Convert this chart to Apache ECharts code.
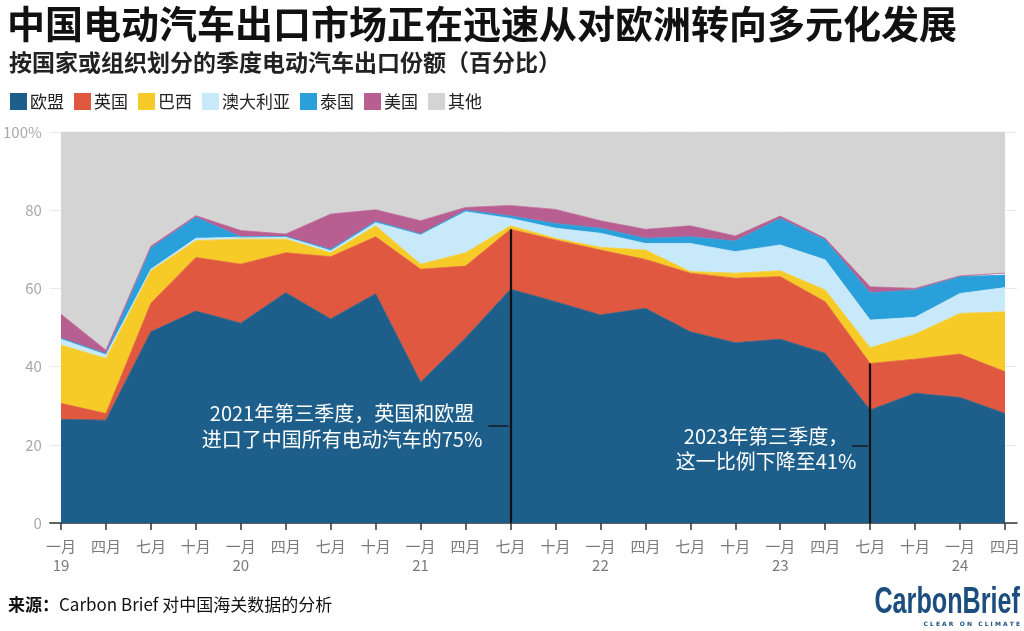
<!DOCTYPE html>
<html>
<head>
<meta charset="utf-8">
<script src="https://cdn.jsdelivr.net/npm/echarts@6/dist/echarts.min.js"></script>
<style>
    html, body { margin: 0; padding: 0; background: #fff; }
    #main { width: 1024px; height: 631px; }
</style>
</head>
<body>
<div id="main"></div>
<script>
// quarters Q1 2019 .. Q2 2024
const months = ['一月', '四月', '七月', '十月', '一月', '四月', '七月', '十月', '一月', '四月', '七月',
    '十月', '一月', '四月', '七月', '十月', '一月', '四月', '七月', '十月', '一月', '四月'];
const years = ['19', '', '', '', '20', '', '', '', '21', '', '', '', '22', '', '', '', '23', '', '', '', '24', ''];

const names = ['欧盟', '英国', '巴西', '澳大利亚', '泰国', '美国', '其他'];
const colors = ['#1d5f8a', '#e05840', '#f7cb27', '#c8e9fa', '#2aa0db', '#b95e91', '#d4d4d4'];

const eu = [26.5, 26.3, 48.9, 54.2, 51.1, 58.9, 52.2, 58.6, 36.0, 47.3, 59.8, 56.6, 53.2, 54.9, 48.9, 46.1, 47.0, 43.4, 28.9, 33.2, 32.1, 28.0];
const uk = [4.1, 1.7, 7.3, 13.7, 15.1, 10.2, 15.9, 14.6, 28.9, 18.4, 15.3, 15.8, 16.6, 12.5, 15.0, 16.5, 16.0, 13.2, 11.9, 8.7, 11.1, 10.7];
const brazil = [14.9, 14.1, 8.3, 4.3, 6.4, 3.5, 1.0, 2.8, 1.3, 3.4, 0.9, 0.4, 0.7, 2.4, 0.4, 1.3, 1.5, 3.0, 4.0, 6.4, 10.4, 15.3];
const australia = [1.5, 0.9, 0.4, 0.6, 0.5, 0.6, 0.5, 0.8, 7.5, 10.5, 1.9, 2.6, 3.6, 1.7, 7.2, 5.5, 6.6, 7.7, 7.1, 4.3, 5.1, 6.2];
const thailand = [0.3, 0.3, 5.4, 5.4, 0.1, 0.1, 0.4, 0.4, 0.2, 0.4, 0.6, 1.2, 1.3, 1.3, 1.7, 2.7, 6.8, 5.1, 7.0, 7.0, 4.3, 3.2];
const usa = [6.1, 0.9, 0.5, 0.4, 1.6, 0.6, 9.0, 2.9, 3.4, 0.7, 2.7, 3.6, 1.9, 2.3, 2.8, 1.3, 0.6, 0.4, 1.5, 0.4, 0.2, 0.5];
const other = [46.6, 55.8, 29.2, 21.4, 25.2, 26.1, 21.0, 19.9, 22.7, 19.3, 18.8, 19.8, 22.7, 24.9, 24.0, 26.6, 21.5, 27.2, 39.6, 40.0, 36.8, 36.1];

const yTicks = [0, 20, 40, 60, 80, 100];

// annotation lines: quarter index, top of line, height of the small pointer
const note1 = { idx: 10, top: 75.1, tickY: 24.8, tickLen: 20 };
const note2 = { idx: 18, top: 40.8, tickY: 19.7, tickLen: 16 };

const font = 'Noto Sans CJK SC';

var myChart = echarts.init(document.getElementById('main'));

var allData = [eu, uk, brazil, australia, thailand, usa, other];
var series = [];
for (var i = 0; i < names.length; i++) {
    series.push({
        name: names[i],
        type: 'line',
        stack: 'total',
        xAxisIndex: 1,
        yAxisIndex: 1,
        data: allData[i],
        symbol: 'none',
        silent: true,
        itemStyle: { color: colors[i] },
        lineStyle: { width: 0.8, color: colors[i] },
        areaStyle: { color: colors[i], opacity: 1 }
    });
}

series[0].markLine = {
    silent: true,
    symbol: 'none',
    z: 10,
    label: { show: false },
    lineStyle: { color: '#111', width: 2.2, type: 'solid' },
    data: [
        [{ coord: [note1.idx, note1.top] }, { coord: [note1.idx, 0] }],
        [{ coord: [note2.idx, note2.top] }, { coord: [note2.idx, 0] }]
    ]
};

var option = {
    animation: false,
    title: [
        {
            text: '中国电动汽车出口市场正在迅速从对欧洲转向多元化发展',
            left: 2, top: 0,
            textStyle: { fontFamily: font, fontSize: 38, fontWeight: 'bold', color: '#111' }
        },
        {
            text: '按国家或组织划分的季度电动汽车出口份额（百分比）',
            left: 4, top: 46,
            textStyle: { fontFamily: font, fontSize: 23, fontWeight: 'bold', color: '#222' }
        }
    ],
    legend: {
        data: names,
        left: 5, top: 88,
        icon: 'rect',
        itemWidth: 17, itemHeight: 17,
        itemGap: 10,
        selectedMode: false,
        textStyle: { fontFamily: font, fontSize: 17, color: '#222', padding: [0, 0, 0, -2] }
    },
    grid: [
        { left: 48, right: 7, top: 132, bottom: 108 },
        { left: 61, right: 19, top: 132, bottom: 108 }
    ],
    xAxis: [
        {
            gridIndex: 0, type: 'value', min: 0, max: 1,
            axisLine: { show: true, onZero: false, lineStyle: { color: '#333', width: 1.5 } },
            axisTick: { show: false }, axisLabel: { show: false }, splitLine: { show: false }
        },
        {
            gridIndex: 1, type: 'category', boundaryGap: false,
            data: months,
            axisLine: { show: false },
            axisTick: { show: true, length: 7, inside: false, lineStyle: { color: '#333', width: 1.5 } },
            axisLabel: {
                interval: 0, margin: 14,
                fontFamily: font, fontSize: 15, color: '#7a7a7a', lineHeight: 19,
                formatter: function (v, idx) {
                    return years[idx] ? v + '\n' + years[idx] : v;
                }
            },
            splitLine: { show: false }
        }
    ],
    yAxis: [
        {
            gridIndex: 0, type: 'value', min: 0, max: 100, interval: 20,
            axisLine: { show: false }, axisTick: { show: false },
            axisLabel: {
                margin: 8, fontFamily: font, fontSize: 15, color: '#a8a8a8',
                formatter: function (v) { return v === yTicks[yTicks.length - 1] ? v + '%' : v; }
            },
            splitLine: { lineStyle: { color: '#e8e8e8', width: 1 } }
        },
        { gridIndex: 1, type: 'value', min: 0, max: 100, show: false }
    ],
    graphic: [
        {
            type: 'text', z: 10,
            x: 342, y: 426,
            style: {
                text: '2021年第三季度，英国和欧盟\n进口了中国所有电动汽车的75%',
                fontFamily: font, fontSize: 20, fill: '#fff', lineHeight: 26,
                align: 'center', verticalAlign: 'middle'
            }
        },
        {
            type: 'text', z: 10,
            x: 766, y: 449,
            style: {
                text: '2023年第三季度，\n这一比例下降至41%',
                fontFamily: font, fontSize: 20, fill: '#fff', lineHeight: 25,
                align: 'center', verticalAlign: 'middle'
            }
        },
        {
            type: 'text', x: 8, y: 605,
            style: {
                text: '{b|来源：}{r|Carbon Brief 对中国海关数据的分析}',
                verticalAlign: 'middle',
                rich: {
                    b: { fontFamily: font, fontSize: 17, fontWeight: 'bold', fill: '#111' },
                    r: { fontFamily: font, fontSize: 17, fill: '#111' }
                }
            }
        },
        {
            type: 'text', x: 1020, y: 603, scaleX: 0.7,
            style: {
                text: 'CarbonBrief', align: 'right', verticalAlign: 'middle',
                fontFamily: 'Liberation Sans', fontSize: 36, fontWeight: 'bold', fill: '#1b4d7e'
            }
        },
        {
            type: 'text', x: 1020, y: 624,
            style: {
                text: 'C L E A R   O N   C L I M A T E', align: 'right', verticalAlign: 'middle',
                fontFamily: 'DejaVu Sans', fontSize: 6, fontWeight: 'bold', fill: '#1b4d7e'
            }
        }
    ],
    series: series
};

myChart.setOption(option);

// small pointers joining the notes to their lines
function pointer(n) {
    var p = myChart.convertToPixel({ xAxisIndex: 1, yAxisIndex: 1 }, [n.idx, n.tickY]);
    return {
        type: 'line', z: 10, silent: true,
        shape: { x1: p[0] - n.tickLen - 2, y1: p[1], x2: p[0] - 2, y2: p[1] },
        style: { stroke: '#151515', lineWidth: 1.4 }
    };
}
var g = option.graphic.slice();
g.push(pointer(note1), pointer(note2));
myChart.setOption({ graphic: g });
</script>
</body>
</html>
